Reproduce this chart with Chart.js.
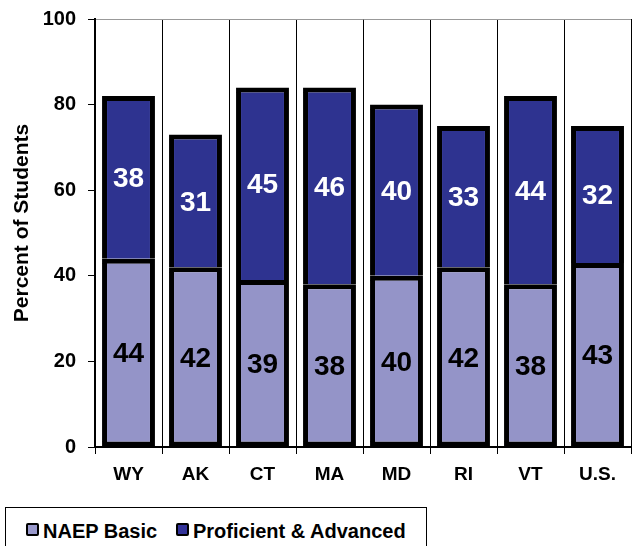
<!DOCTYPE html>
<html><head><meta charset="utf-8">
<script src="https://cdn.jsdelivr.net/npm/chart.js@4"></script>
<style>
html,body{margin:0;padding:0;background:#fff;}
#wrap{position:relative;width:632px;height:546px;overflow:hidden;}
#c{position:absolute;left:0;top:0;}
#legend{position:absolute;left:5px;top:507px;width:422px;height:60px;border:1px solid #000;box-sizing:border-box;
font:bold 20px "Liberation Sans",Arial,sans-serif;color:#000;}
.item{position:absolute;top:12px;white-space:nowrap;}
.sw{display:inline-block;width:9px;height:9px;border:2px solid #000;border-radius:2px;margin-right:4px;vertical-align:2px;}
</style></head><body>
<div id="wrap">
<canvas id="c" width="632" height="500"></canvas>
<div id="legend">
<span class="item" style="left:20px"><span class="sw" style="background:#9999CC"></span>NAEP Basic</span>
<span class="item" style="left:170px"><span class="sw" style="background:#333399"></span>Proficient &amp; Advanced</span>
</div>
</div>
<script>
const categories = ["WY","AK","CT","MA","MD","RI","VT","U.S."];
const basic = [44,42,39,38,40,42,38,43];
const proficient = [38,31,45,46,40,33,44,32];
const yTicks = [0,20,40,60,80,100];
const seriesNames = ["NAEP Basic","Proficient & Advanced"];
const yTitle = "Percent of Students";

const FONT = '"Liberation Sans", Arial, sans-serif';

const labelPlugin = {
  id: 'segLabels',
  afterDatasetsDraw(chart) {
    const ctx = chart.ctx;
    ctx.save();
    ctx.font = 'bold 28px ' + FONT;
    ctx.textAlign = 'center';
    ctx.textBaseline = 'middle';
    chart.data.datasets.forEach((ds, di) => {
      const meta = chart.getDatasetMeta(di);
      ctx.fillStyle = di === 0 ? '#000' : '#fff';
      meta.data.forEach((el, i) => {
        const p = el.getProps(['x','y','base'], true);
        ctx.fillText(String(ds.data[i]), p.x, (p.y + p.base) / 2 + 2);
      });
    });
    ctx.restore();
  }
};

const titlePlugin = {
  id: 'yTitle',
  afterDraw(chart) {
    const ctx = chart.ctx;
    const a = chart.chartArea;
    ctx.save();
    ctx.translate(22, (a.top + a.bottom) / 2 - 10);
    ctx.rotate(-Math.PI / 2);
    ctx.font = 'bold 21px ' + FONT;
    ctx.fillStyle = '#000';
    ctx.textAlign = 'center';
    ctx.textBaseline = 'middle';
    ctx.fillText(yTitle, 0, 0);
    ctx.restore();
  }
};

new Chart(document.getElementById('c'), {
  type: 'bar',
  data: {
    labels: categories,
    datasets: [
      {label: seriesNames[0], data: basic, backgroundColor: '#9494C8', borderColor: '#000', borderWidth: 5, borderSkipped: false},
      {label: seriesNames[1], data: proficient, backgroundColor: '#2E3390', borderColor: '#000', borderWidth: 5, borderSkipped: 'bottom'}
    ]
  },
  options: {
    responsive: false,
    animation: false,
    layout: {padding: {top: 19, right: 1, left: 0, bottom: 20}},
    plugins: {legend: {display: false}, tooltip: {enabled: false}},
    datasets: {bar: {categoryPercentage: 1, barPercentage: 0.79}},
    scales: {
      x: {
        stacked: true,
        afterFit: (s) => { s.height = 33; s.paddingLeft = 0; s.paddingRight = 0; },
        grid: {offset: true, color: '#000', lineWidth: 1, tickLength: 7, drawOnChartArea: true},
        border: {color: '#000', width: 2},
        ticks: {color: '#000', font: {family: FONT, size: 19, weight: 'bold'}, padding: 9}
      },
      y: {
        stacked: true,
        min: 0, max: 100,
        afterFit: (s) => { s.width = 95; s.paddingTop = 0; s.paddingBottom = 0; },
        afterBuildTicks: (s) => { s.ticks = yTicks.map(v => ({value: v})); },
        grid: {
          color: (c) => (c.tick && c.tick.value === 100) ? '#999' : 'rgba(0,0,0,0)',
          tickColor: '#000', tickLength: 7, lineWidth: 1
        },
        border: {color: '#000', width: 2},
        ticks: {color: '#000', font: {family: FONT, size: 20, weight: 'bold'}, padding: 12}
      }
    }
  },
  plugins: [labelPlugin, titlePlugin]
});
</script>
</body></html>
